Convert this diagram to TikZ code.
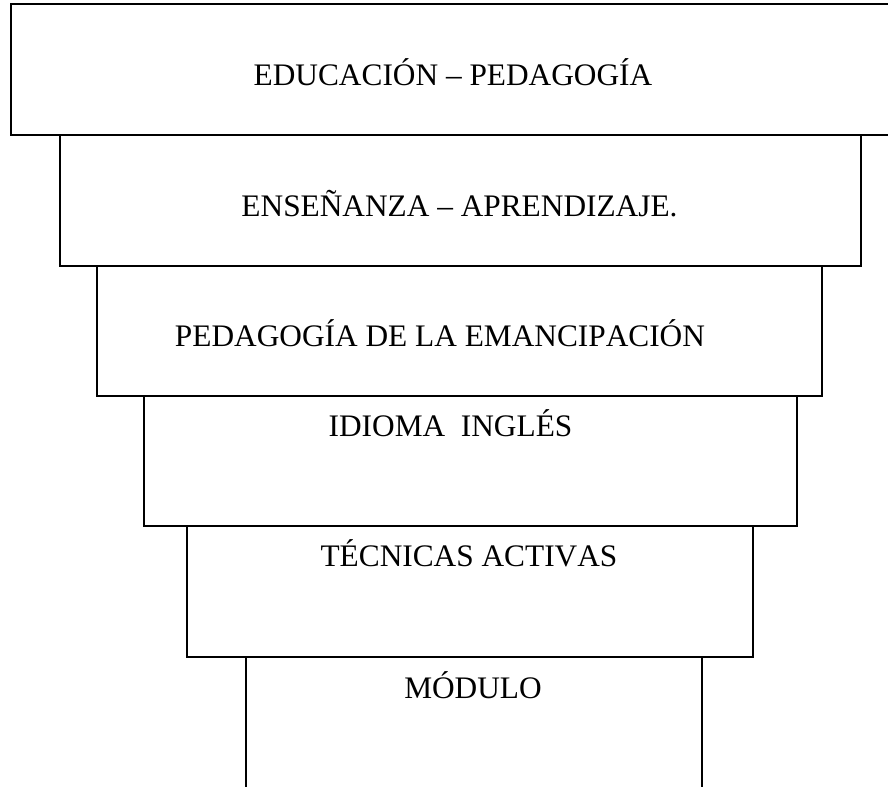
\documentclass[tikz,border=0pt]{standalone}
\usepackage{fontspec}
\setmainfont{Liberation Serif}[Kerning=Off]
\tikzset{
  nivel/.style = {line width=1.1pt},
  rotulo/.style = {anchor=base, inner sep=0pt, font=\fontsize{23.5}{28}\selectfont},
}

\begin{document}
\begin{tikzpicture}[x=0.75pt, y=-0.75pt]
			\useasboundingbox (0,0) rectangle (888,787);
			\clip (0,0) rectangle (888,787);

			\begin{scope}[nivel]
				\draw (11,4) rectangle (900,135);
				\draw (60,135) rectangle (861,266);
				\draw (97,266) rectangle (822,396);
				\draw (144,396) rectangle (797,526);
				\draw (187,526) rectangle (753,657);
				\draw (246,800) -- (246,657) -- (702,657) -- (702,800);
			\end{scope}

			\node[rotulo] (educacion) at (453,86) {EDUCACIÓN – PEDAGOGÍA};
			\node[rotulo] (ensenanza) at (459.5,217) {ENSEÑANZA – APRENDIZAJE.};
			\node[rotulo] (emancipacion) at (440,347) {PEDAGOGÍA DE LA EMANCIPACIÓN};
			\node[rotulo] (ingles) at (450.5,436) {IDIOMA\ \ INGLÉS};
			\node[rotulo] (tecnicas) at (469,566) {TÉCNICAS ACTIVAS};
			\node[rotulo] (modulo) at (473,698) {MÓDULO};
		\end{tikzpicture}
\end{document}
